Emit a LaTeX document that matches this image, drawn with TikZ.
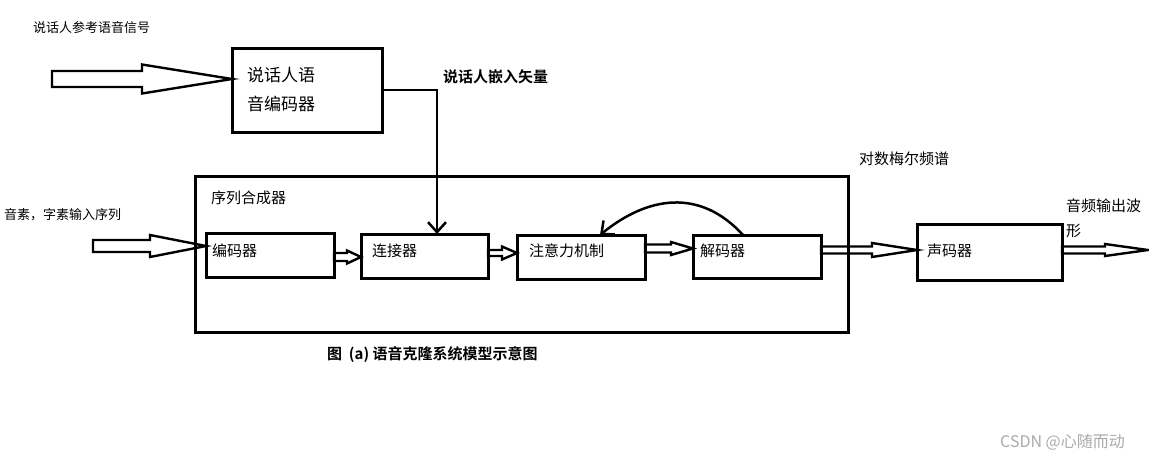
\documentclass[tikz,border=0pt]{standalone}
\usepackage{fontspec}
\newfontfamily\cjk{Noto Sans CJK SC}[BoldFont={Noto Sans CJK SC Bold}]
\usetikzlibrary{calc,arrows.meta}
\tikzset{
  box/.style={draw, line width=3pt, inner sep=0pt, outer sep=0pt, anchor=north west},
  lbl/.style={inner sep=0pt, font=\cjk\fontsize{15}{18}\selectfont},
  hol/.style={draw, line width=2.4pt, line join=miter},
  conn/.style={draw, line width=2.5pt},
  barb/.style={-{Straight Barb[length=10pt,width=18pt,line width=2.5pt]}}
}
\newcommand\hollow[5]{%
  \draw[hol] let \p1=(#1), \p2=(#2) in
    (\x1,\y2+#3pt) -- (\x2-#5pt,\y2+#3pt) -- (\x2-#5pt,\y2+#4pt) -- (\x2,\y2)
    -- (\x2-#5pt,\y2-#4pt) -- (\x2-#5pt,\y2-#3pt) -- (\x1,\y2-#3pt) -- cycle;}
\begin{document}
\begin{tikzpicture}[x=1pt,y=-1pt]
\useasboundingbox[fill=white] (0,0) rectangle (1149,461);

% boxes
\node[box, minimum width=150, minimum height=84] (spk) at (232,48) {};
\node[box, minimum width=653, minimum height=156] (syn) at (195,176) {};
\node[box, minimum width=128, minimum height=44] (enc) at (206,233) {};
\node[box, minimum width=127, minimum height=44] (con) at (361,234) {};
\node[box, minimum width=128, minimum height=44] (att) at (517,235) {};
\node[box, minimum width=128, minimum height=43] (dec) at (693,235) {};
\node[box, minimum width=145, minimum height=56] (voc) at (917,224) {};

% box texts
\node[lbl, font=\cjk\fontsize{17}{20}\selectfont, anchor=west] (spkA) at (247,75) {说话人语};
\node[lbl, font=\cjk\fontsize{17}{20}\selectfont, anchor=west] (spkB) at (247,104) {音编码器};
\node[lbl, anchor=west] (synT) at (211,198) {序列合成器};
\node[lbl, anchor=west] (encT) at (212,251) {编码器};
\node[lbl, anchor=west] (conT) at (372,251) {连接器};
\node[lbl, anchor=west] (attT) at (529,251) {注意力机制};
\node[lbl, anchor=west] (decT) at (700,251) {解码器};
\node[lbl, anchor=west] (vocT) at (927,251) {声码器};

% free labels
\node[lbl, font=\cjk\fontsize{13}{15}\selectfont, anchor=west] (refT) at (33,27.5) {说话人参考语音信号};
\node[lbl, font=\cjk\fontsize{13}{15}\selectfont, anchor=west] (phT) at (4,215) {音素，字素输入序列};
\node[lbl, font=\cjk\bfseries\fontsize{15}{18}\selectfont, anchor=west] (embT) at (443,77) {说话人嵌入矢量};
\node[lbl, anchor=west] (melT) at (859,159) {对数梅尔频谱};
\node[lbl, anchor=west] (wavA) at (1066,206) {音频输出波};
\node[lbl, anchor=west] (wavB) at (1066,231) {形};
\node[lbl, font=\cjk\bfseries\fontsize{15}{18}\selectfont, anchor=west] (cap) at (327,355) {图\ \ (a) 语音克隆系统模型示意图};
\node[lbl, font=\cjk\fontsize{16}{18}\selectfont, text=black!33, anchor=west] (wm) at (1000,442) {CSDN @心随而动};

% free ends
\coordinate (in1) at (52,80);
\coordinate (in2) at (93,246);
\coordinate (out) at (1148,250);

% hollow arrows
\hollow{in1}{$(spk.west)+(0,-11)$}{8}{14.5}{90}
\hollow{in2}{$(enc.west)+(0,-9)$}{6}{11}{56}
\hollow{enc.east}{$(con.west)+(0,1)$}{4}{6.5}{14}
\hollow{con.east}{$(att.west)+(0,-4)$}{3}{6.5}{15}
\hollow{att.east}{$(dec.west)+(0,-8)$}{4}{6.5}{22}
\hollow{dec.east}{$(voc.west)+(0,-2)$}{3.5}{7}{45}
\hollow{voc.east}{out}{3.5}{6}{43}

% speaker embedding connector
\draw[conn, barb] (spk.east) -| ($(con.north west)+(76,0)$);

% attention feedback curve
\draw[conn, barb] ($(dec.north west)+(50,0)$) .. controls (700,188) and (648,196) .. ($(att.north west)+(83,0)$);
\end{tikzpicture}
\end{document}
